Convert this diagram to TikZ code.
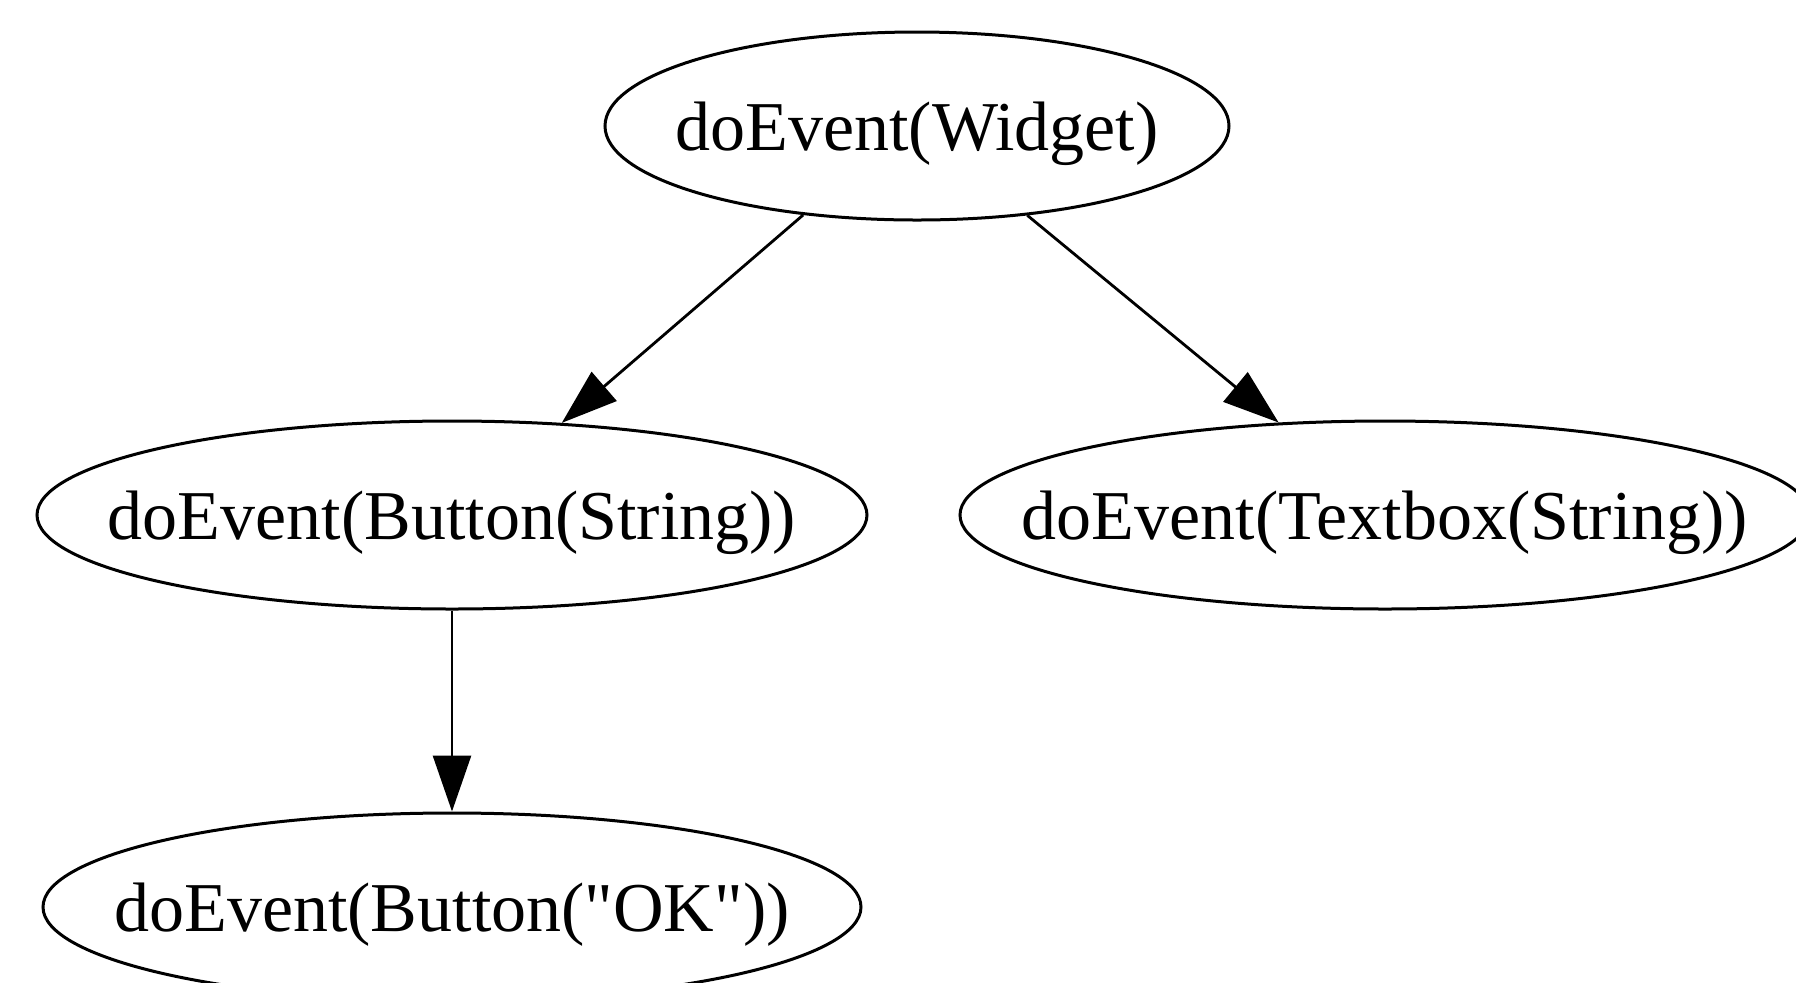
\documentclass[tikz,border=0pt]{standalone}
\usepackage{fontspec}
\setmainfont{Liberation Serif}[Ligatures=TeXOff]
\usetikzlibrary{shapes.geometric,arrows.meta}
\newcommand\zwbox[1]{\makebox[0pt][c]{#1}}
\tikzset{
  fn/.style={ellipse, draw, line width=1.5pt, inner sep=0pt,
    minimum height=94pt, font=\fontsize{35}{42}\selectfont,
    text height=30pt, text depth=6pt},
  arr/.style={line width=1.4pt, -{Triangle[length=28pt,width=19pt]}}
}
\begin{document}
\begin{tikzpicture}[x=0.5pt,y=-0.5pt]
\useasboundingbox (0,0) rectangle (1796,982);
\clip (0,0) rectangle (1796,982);
\fill[white] (0,0) rectangle (1796,982);
\node[fn, minimum width=312pt] (top) at (917,126) {\zwbox{doEvent(Widget)}};
\node[fn, minimum width=415pt] (ml) at (452,515) {\zwbox{doEvent(Button(String))}};
\node[fn, minimum width=425pt] (mr) at (1385,515) {\zwbox{doEvent(Textbox(String))}};
\node[fn, minimum width=409pt] (bot) at (452,907) {\zwbox{doEvent(Button("OK"))}};
\draw[arr] (top.218.7) -- (ml.40);
\draw[arr] (top.321.8) -- (mr.139.8);
\draw[arr] (ml.south) -- (bot.north);
\end{tikzpicture}
\end{document}
